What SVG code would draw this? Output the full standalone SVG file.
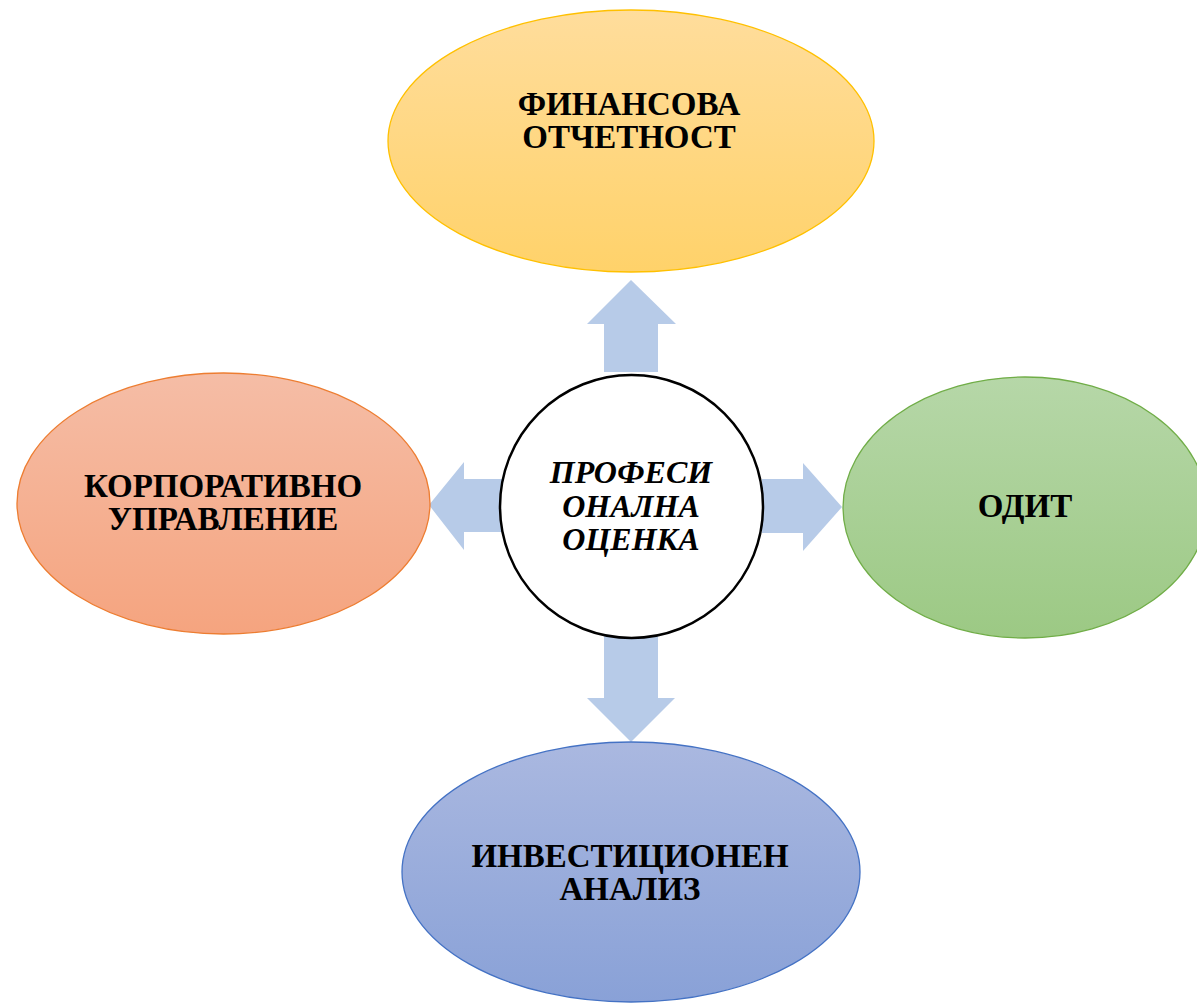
<svg xmlns="http://www.w3.org/2000/svg" width="1197" height="1004" viewBox="0 0 1197 1004">
<style>
.lbl{font-family:"Liberation Serif","Times New Roman",serif;font-weight:bold;font-size:33px;fill:#000;text-anchor:middle}
.ctr{font-style:italic;font-size:32px}
.arrow{fill:#B7CBE8}
</style>
<defs>
<linearGradient id="gY" x1="0" y1="0" x2="0" y2="1"><stop offset="0" stop-color="#FFDD9C"/><stop offset="1" stop-color="#FFD26A"/></linearGradient>
<linearGradient id="gO" x1="0" y1="0" x2="0" y2="1"><stop offset="0" stop-color="#F5BDA6"/><stop offset="1" stop-color="#F5A47F"/></linearGradient>
<linearGradient id="gG" x1="0" y1="0" x2="0" y2="1"><stop offset="0" stop-color="#B6D7A8"/><stop offset="1" stop-color="#9CC984"/></linearGradient>
<linearGradient id="gB" x1="0" y1="0" x2="0" y2="1"><stop offset="0" stop-color="#AAB8E0"/><stop offset="1" stop-color="#89A1D7"/></linearGradient>
</defs>
<rect width="1197" height="1004" fill="#fff"/>
<g id="connectors">
<polygon class="arrow" points="631,280 676,324 658,324 658,372 604,372 604,324 587,324"/>
<polygon class="arrow" points="429,505 464,462 464,479 502,479 502,532 464,532 464,550"/>
<polygon class="arrow" points="842,507 803,463 803,479 762,479 762,533 803,533 803,551"/>
<polygon class="arrow" points="631,742 675,698 658,698 658,630 604,630 604,698 587,698"/>
</g>
<g id="node-top">
<ellipse cx="631" cy="141" rx="243" ry="131" fill="url(#gY)" stroke="#FFC000" stroke-width="1.3"/>
<text class="lbl" x="629" y="115">ФИНАНСОВА</text>
<text class="lbl" x="629" y="148">ОТЧЕТНОСТ</text>
</g>
<g id="node-left">
<ellipse cx="223.5" cy="503.5" rx="206.5" ry="130.5" fill="url(#gO)" stroke="#ED7D31" stroke-width="1.3"/>
<text class="lbl" x="223" y="497">КОРПОРАТИВНО</text>
<text class="lbl" x="223" y="530">УПРАВЛЕНИЕ</text>
</g>
<g id="node-right">
<ellipse cx="1025" cy="507.5" rx="182" ry="130.5" fill="url(#gG)" stroke="#70AD47" stroke-width="1.3"/>
<text class="lbl" x="1025" y="517">ОДИТ</text>
</g>
<g id="node-bottom">
<ellipse cx="631" cy="872" rx="229" ry="130" fill="url(#gB)" stroke="#4472C4" stroke-width="1.3"/>
<text class="lbl" x="630" y="867">ИНВЕСТИЦИОНЕН</text>
<text class="lbl" x="630" y="900">АНАЛИЗ</text>
</g>
<g id="node-center">
<circle cx="631.5" cy="506.5" r="131.5" fill="#fff" stroke="#000" stroke-width="2.5"/>
<text class="lbl ctr" x="631" y="483">ПРОФЕСИ</text>
<text class="lbl ctr" x="631" y="517">ОНАЛНА</text>
<text class="lbl ctr" x="631" y="550">ОЦЕНКА</text>
</g>
</svg>
